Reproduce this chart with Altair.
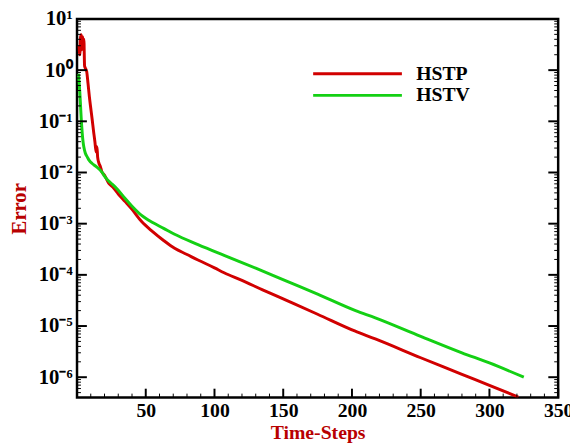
import altair as alt
import pandas as pd

# HSTP series (time-step, error)
hstp_t = [1.5, 2.0, 2.5, 3.0, 3.5, 4.0, 4.5, 5.0, 5.5, 6.0, 7.0, 8.0, 9.0, 10.0, 11.0,
          12.0, 13.0, 13.5, 14.0, 14.5, 15.0, 16.0, 17.0, 18.0, 20.0, 23.0, 26.0, 30.0,
          35.0, 40.0, 47.0, 55.0, 63.0, 71.0, 80.0, 88.0, 100.0, 107.0, 120.0, 135.0,
          152.0, 175.0, 202.0, 217.0, 250.0, 280.0, 300.0, 321.0]
hstp_v = [3.0, 2.0, 4.2, 4.9, 2.5, 4.5, 3.5, 4.0, 1.2, 1.1, 0.95, 0.55, 0.3, 0.18, 0.11,
          0.065, 0.04, 0.03, 0.025, 0.032, 0.02, 0.015, 0.013, 0.0105, 0.0088, 0.0062,
          0.0052, 0.0038, 0.0027, 0.0019, 1.1e-3, 7.0e-4, 4.7e-4, 3.3e-4, 2.5e-4, 1.95e-4,
          1.37e-4, 1.1e-4, 7.8e-5, 5.1e-5, 3.2e-5, 1.7e-5, 8.0e-6, 5.6e-6, 2.4e-6,
          1.14e-6, 6.9e-7, 4.1e-7]

# HSTV series
hstv_t = [1.0, 1.5, 2.0, 2.5, 3.0, 3.5, 4.0, 4.5, 5.0, 6.0, 7.5, 9.0, 11.0, 14.0, 18.7,
          20.0, 23.0, 26.0, 30.0, 35.0, 40.0, 47.0, 55.0, 63.0, 71.0, 88.0, 107.0, 130.0,
          152.0, 175.0, 202.6, 217.0, 250.0, 280.0, 300.0, 325.0]
hstv_v = [0.85, 0.6, 0.38, 0.22, 0.12, 0.075, 0.05, 0.038, 0.031, 0.024, 0.02, 0.017,
          0.015, 0.013, 0.0097, 0.0085, 0.0068, 0.0058, 0.0045, 0.0031, 0.0022, 1.45e-3,
          1.05e-3, 8.1e-4, 6.2e-4, 3.9e-4, 2.4e-4, 1.35e-4, 7.6e-5, 4.2e-5, 2.0e-5,
          1.45e-5, 6.3e-6, 3.0e-6, 1.9e-6, 1.0e-6]

series_names = ["HSTP", "HSTV"]
series_colors = ["#d10000", "#14d014"]

y_major = [1e1, 1e0, 1e-1, 1e-2, 1e-3, 1e-4, 1e-5, 1e-6]
y_minor = [k * 10.0 ** e for e in range(-7, 1) for k in range(2, 10) if k * 10.0 ** e >= 4.5e-7]
x_major = [50, 100, 150, 200, 250, 300, 350]
x_minor = [v for v in range(10, 350, 10) if v % 50 != 0]

W, H = 488, 384
YDOM = [4e-7, 10]
XDOM = [0, 350]
FONT = "Liberation Serif"
TITLE_RED = "#b80000"

df = pd.concat([
    pd.DataFrame({"series": series_names[0], "t": hstp_t, "v": hstp_v}),
    pd.DataFrame({"series": series_names[1], "t": hstv_t, "v": hstv_v}),
])

xs = alt.Scale(domain=XDOM, nice=False, zero=False)
ys = alt.Scale(type="log", domain=YDOM, nice=False)

sup_expr = ("['10\u207b\u2076','10\u207b\u2075','10\u207b\u2074','10\u207b\u00b3',"
            "'10\u207b\u00b2','10\u207b\u00b9','10\u2070','10\u00b9']"
            "[round(log(datum.value)/LN10)+6]")

x_axis = alt.Axis(
    values=x_major, title="Time-Steps", ticks=False, domain=False, grid=False,
    labelFont=FONT, labelFontSize=20, labelFontWeight="bold", labelColor="black",
    labelPadding=3, titleFont=FONT, titleFontSize=20, titleFontWeight="bold",
    titleColor=TITLE_RED, titlePadding=3, labelFlush=False, labelOverlap=False)
y_axis = alt.Axis(
    values=y_major, title="Error", ticks=False, domain=False, grid=False,
    labelExpr=sup_expr, labelFont=FONT, labelFontSize=21, labelFontWeight="bold",
    labelColor="black", labelPadding=5, titleFont=FONT, titleFontSize=21,
    titleFontWeight="bold", titleColor=TITLE_RED, titlePadding=9,
    labelFlush=False, labelOverlap=False)

lines = alt.Chart(df).mark_line(strokeWidth=3, clip=True, interpolate="monotone").encode(
    x=alt.X("t:Q", scale=xs, axis=x_axis),
    y=alt.Y("v:Q", scale=ys, axis=y_axis),
    color=alt.Color("series:N", scale=alt.Scale(domain=series_names, range=series_colors),
                    legend=alt.Legend(title=None, orient="none", legendX=273, legendY=44,
                                      symbolType="M-4.5,0H4.5", symbolSize=400,
                                      symbolStrokeWidth=3, labelFont=FONT,
                                      labelFontSize=20, labelFontWeight="bold",
                                      labelColor="black", labelOffset=48, rowPadding=0)),
)

def yticks(vals, length, sw):
    d = pd.DataFrame({"v": vals})
    left = alt.Chart(d).mark_rule(color="black", strokeWidth=sw).encode(
        y=alt.Y("v:Q", scale=ys), x=alt.value(0), x2=alt.value(length))
    right = alt.Chart(d).mark_rule(color="black", strokeWidth=sw).encode(
        y=alt.Y("v:Q", scale=ys), x=alt.value(W), x2=alt.value(W - length))
    return [left, right]

def xticks(vals, length, sw):
    d = pd.DataFrame({"t": vals})
    return [alt.Chart(d).mark_rule(color="black", strokeWidth=sw).encode(
        x=alt.X("t:Q", scale=xs), y=alt.value(H), y2=alt.value(H - length))]

layers = [lines] + yticks(y_major, 10, 2) + yticks(y_minor, 4, 1) + \
    xticks(x_major, 9, 2) + xticks(x_minor, 4, 1)

chart = alt.layer(*layers).properties(
    width=W, height=H,
    background="white",
    autosize=alt.AutoSizeParams(type="none"),
    padding={"left": 70, "top": 8, "right": 12, "bottom": 46},
).configure_view(stroke="black", strokeWidth=2.5)

chart.save("out.html", embed_options={"renderer": "svg", "actions": False})
